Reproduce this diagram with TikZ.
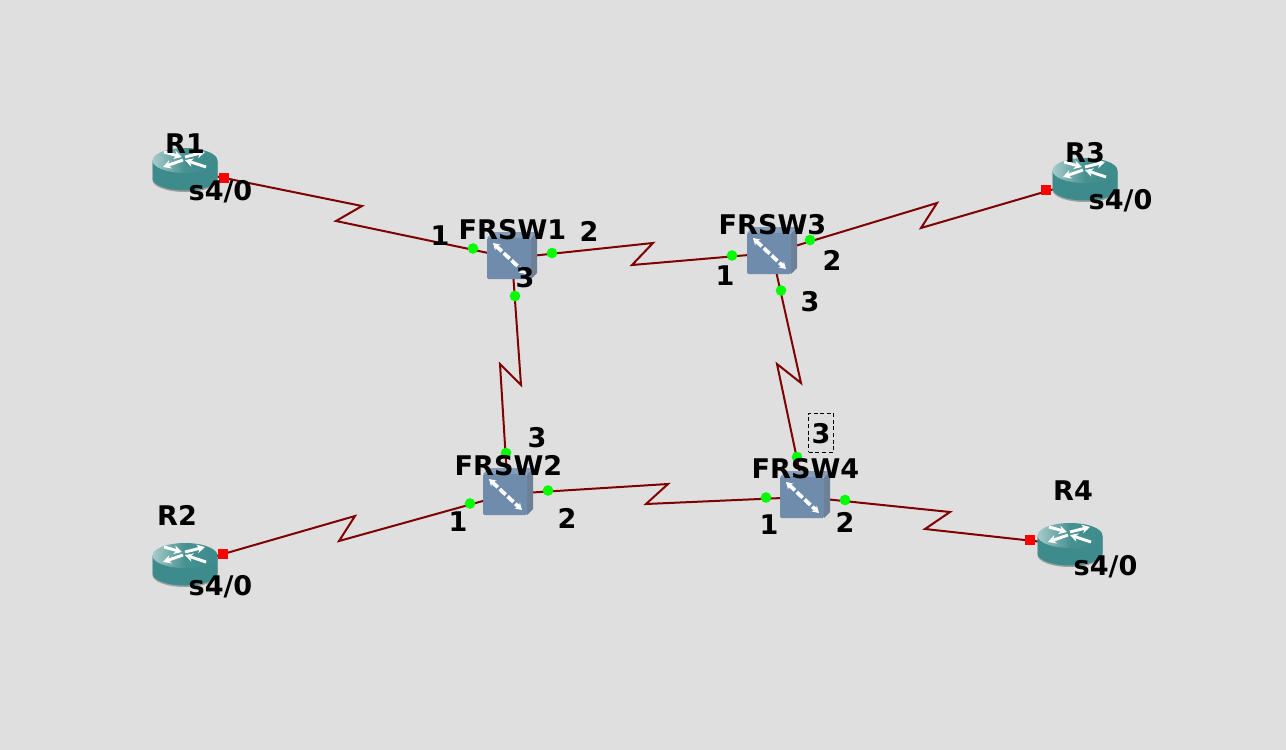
\documentclass[tikz,border=0pt]{standalone}
\usepackage{fontspec}
\setmainfont{DejaVu Sans}
\usetikzlibrary{arrows.meta}
\definecolor{bgcol}{HTML}{DFDFDF}
\definecolor{linkcol}{HTML}{7E0000}
\definecolor{routercol}{HTML}{3D8B8B}
\definecolor{switchcol}{HTML}{6F8CAD}
\tikzset{
  anchorbox/.style={inner sep=0pt,minimum size=0pt},
  link/.style={draw=linkcol,line width=1.5pt},
  greendot/.style={circle,fill=green,inner sep=0pt,minimum size=8pt},
  redsquare/.style={rectangle,fill=red,inner sep=0pt,minimum size=7.5pt},
  devlabel/.style={font=\bfseries\fontsize{20.3}{20.3}\selectfont,inner sep=0pt},
  portbox/.style={draw,densely dashed,line width=0.5pt,minimum width=18.75pt,minimum height=29.25pt,inner sep=0pt},
  routerarrow/.style={white,line width=2.2pt,-{Stealth[length=6pt,width=6.5pt]}},
  switcharrow/.style={white,line width=2.8pt,dash pattern=on 6pt off 2pt,{Stealth[length=5pt,width=6pt]}-{Stealth[length=5pt,width=6pt]}}
}
\newcommand{\routericon}[1]{
\begin{scope}[shift={(#1.center)}]
\fill [gray!75] (-32.5,-8) -- (-32.5,10) arc (180:0:32.5 and 12) -- (32.5,-8) -- cycle;
\fill [routercol] (-32.5,-9) -- (-32.5,8.5) arc (180:0:32.5 and 12) -- (32.5,-9) -- cycle;
\shade [left color=routercol!45!white,right color=routercol,middle color=routercol!95!white] (0,-9.5) ellipse (32.5 and 12.5);
\draw [routerarrow] (-21,-18) -- (-3,-13);
\draw [routerarrow] (0,-13) -- (20,-18);
\draw [routerarrow] (-2,-10) -- (-22,-3);
\draw [routerarrow] (21,-3) -- (0,-10);
\end{scope}
}
\newcommand{\switchicon}[1]{
\begin{scope}[shift={(#1.center)}]
\fill [switchcol!75!black!85!white] (19,-20) -- (25,-26) -- (25,15) -- (19,21) -- cycle;
\fill [switchcol!85!white] (-25,-20) -- (-19,-26) -- (25,-26) -- (19,-20) -- cycle;
\fill [switchcol,rounded corners=1pt] (-25,-20) rectangle (19,21);
\draw [switcharrow] (-19,-15) -- (14,16);
\end{scope}
}
\begin{document}
\begin{tikzpicture}[x=0.75pt,y=-0.75pt]
\fill [bgcol] (0,0) rectangle (1286,750);
\useasboundingbox (0,0) rectangle (1286,750);
% devices
\node [anchorbox] (R1) at (185,170) {};
\node [anchorbox] (R2) at (185,565) {};
\node [anchorbox] (R3) at (1085,180) {};
\node [anchorbox] (R4) at (1070,545) {};
\node [anchorbox] (FRSW1) at (512,258) {};
\node [anchorbox] (FRSW2) at (508,494) {};
\node [anchorbox] (FRSW3) at (772,253) {};
\node [anchorbox] (FRSW4) at (805,497) {};
% links
\draw [link] (R1) -- (362,206) -- (336,221) -- (FRSW1);
\draw [link] (FRSW1) -- (653,243) -- (632,265) -- (FRSW3);
\draw [link] (FRSW3) -- (937,203) -- (921,228) -- (R3);
\draw [link] (FRSW1) -- (521,385) -- (500,364) -- (FRSW2);
\draw [link] (FRSW3) -- (801,383) -- (777,364) -- (FRSW4);
\draw [link] (FRSW2) -- (339,541) -- (355,516) -- (R2);
\draw [link] (FRSW2) -- (668,484) -- (646,504) -- (FRSW4);
\draw [link] (FRSW4) -- (950,512) -- (925,529) -- (R4);
% icons
\routericon{R1}
\routericon{R2}
\routericon{R3}
\routericon{R4}
\switchicon{FRSW1}
\switchicon{FRSW2}
\switchicon{FRSW3}
\switchicon{FRSW4}
% interface markers
\node [redsquare] (r1s) at (224,178) {};
\node [redsquare] (r2s) at (223,553.5) {};
\node [redsquare] (r3s) at (1046,190) {};
\node [redsquare] (r4s) at (1030,540) {};
\node [greendot] (sw1a) at (473,248.5) {};
\node [greendot] (sw1b) at (552,253) {};
\node [greendot] (sw1c) at (515,296) {};
\node [greendot] (sw3a) at (732,255.5) {};
\node [greendot] (sw3b) at (810,240) {};
\node [greendot] (sw3c) at (781,290.5) {};
\node [greendot] (sw2a) at (470,503.5) {};
\node [greendot] (sw2b) at (548,490.5) {};
\node [greendot] (sw2c) at (506,453) {};
\node [greendot] (sw4a) at (766,497.5) {};
\node [greendot] (sw4b) at (845,500) {};
\node [greendot] (sw4c) at (797,457) {};
% labels
\node [devlabel] (lr1) at (185,144) {R1};
\node [devlabel] (lr2) at (177,515) {R2};
\node [devlabel] (lr3) at (1085,153) {R3};
\node [devlabel] (lr4) at (1073,491) {R4};
\node [devlabel] (lsw1) at (512.5,229.5) {FRSW1};
\node [devlabel] (lsw2) at (508.5,465.5) {FRSW2};
\node [devlabel] (lsw3) at (772.5,224.5) {FRSW3};
\node [devlabel] (lsw4) at (805.5,468.5) {FRSW4};
\node [devlabel] (ls1) at (220.5,192) {s4/0};
\node [devlabel] (ls2) at (220.5,587) {s4/0};
\node [devlabel] (ls3) at (1120.5,201) {s4/0};
\node [devlabel] (ls4) at (1105.5,567) {s4/0};
\node [devlabel] (p1a) at (440,235.5) {1};
\node [devlabel] (p1b) at (589,231.5) {2};
\node [devlabel] (p1c) at (525,277.5) {3};
\node [devlabel] (p3a) at (725,275.5) {1};
\node [devlabel] (p3b) at (832,260.5) {2};
\node [devlabel] (p3c) at (810,301.5) {3};
\node [devlabel] (p2a) at (458,521.5) {1};
\node [devlabel] (p2b) at (567,518.5) {2};
\node [devlabel] (p2c) at (537,437.5) {3};
\node [devlabel] (p4a) at (769,524.5) {1};
\node [devlabel] (p4b) at (845,522.5) {2};
\node [devlabel] (p4c) at (821,433.5) {3};
\node [portbox] (sel) at (821,432.5) {};
\end{tikzpicture}
\end{document}
